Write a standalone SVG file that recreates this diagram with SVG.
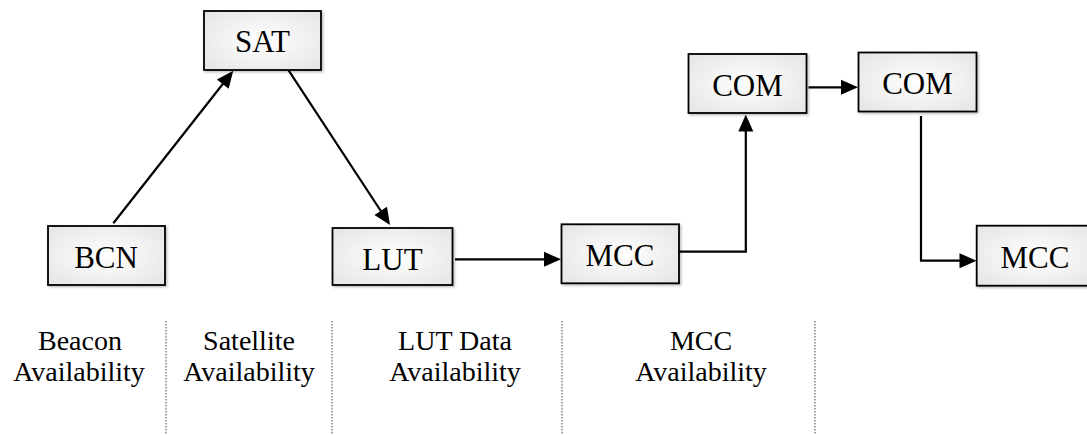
<svg xmlns="http://www.w3.org/2000/svg" width="1087" height="435" viewBox="0 0 1087 435">
<defs>
<radialGradient id="boxfill" cx="50%" cy="50%" r="70%">
<stop offset="0%" stop-color="#ffffff"/>
<stop offset="100%" stop-color="#e4e4e4"/>
</radialGradient>
<filter id="shadow" x="-10%" y="-10%" width="130%" height="130%">
<feDropShadow dx="1.5" dy="1.5" stdDeviation="1.2" flood-color="#000" flood-opacity="0.25"/>
</filter>
<marker id="arrow" markerUnits="userSpaceOnUse" markerWidth="18" markerHeight="16" refX="8" refY="7.5" orient="auto" overflow="visible">
<path d="M0,0 L17,7.5 L0,15 z" fill="#000"/>
</marker>
</defs>
<style>
.box{fill:url(#boxfill);stroke:#000;stroke-width:1.8;filter:url(#shadow)}
.nt{font-family:"Liberation Serif","Times New Roman",serif;font-size:31px;fill:#000;text-anchor:middle}
.lb{font-family:"Liberation Serif","Times New Roman",serif;font-size:28px;fill:#000;text-anchor:middle}
.conn{fill:none;stroke:#000;stroke-width:2.2;marker-end:url(#arrow)}
.div{stroke:#444;stroke-width:1;stroke-dasharray:1.5 1.5}
</style>
<rect width="1087" height="435" fill="#fff"/>
<g id="connectors">
<path class="conn" d="M113.3,223.3 L227.7,77.8"/>
<path class="conn" d="M287.3,68.3 L385.1,217.5"/>
<path class="conn" d="M455,259.3 L552,259.3"/>
<path class="conn" d="M679,251.7 H745.8 V123.5"/>
<path class="conn" d="M808.5,87.3 L849,87.3"/>
<path class="conn" d="M921,116 V260.7 H967.5"/>
</g>
<g id="node-sat"><rect class="box" x="204" y="11" width="117" height="59"/><text class="nt" x="262.5" y="52">SAT</text></g>
<g id="node-bcn"><rect class="box" x="48" y="226" width="117" height="59"/><text class="nt" x="106" y="267.5">BCN</text></g>
<g id="node-lut"><rect class="box" x="332.5" y="228" width="120" height="57"/><text class="nt" x="392.5" y="269.5">LUT</text></g>
<g id="node-mcc1"><rect class="box" x="561.5" y="224.3" width="117.5" height="59"/><text class="nt" x="620" y="266">MCC</text></g>
<g id="node-com1"><rect class="box" x="688.5" y="54" width="118" height="59"/><text class="nt" x="747.5" y="95.5">COM</text></g>
<g id="node-com2"><rect class="box" x="858.5" y="52.5" width="118" height="59"/><text class="nt" x="917.5" y="94">COM</text></g>
<g id="node-mcc2"><rect class="box" x="976.7" y="225.7" width="118" height="60"/><text class="nt" x="1035" y="268">MCC</text></g>
<g id="dividers">
<line class="div" x1="166" y1="321" x2="166" y2="435"/>
<line class="div" x1="332" y1="321" x2="332" y2="435"/>
<line class="div" x1="562" y1="321" x2="562" y2="435"/>
<line class="div" x1="815" y1="321" x2="815" y2="435"/>
</g>
<g id="labels">
<text class="lb" x="80" y="350">Beacon</text>
<text class="lb" x="79" y="381">Availability</text>
<text class="lb" x="249" y="350">Satellite</text>
<text class="lb" x="249" y="381">Availability</text>
<text class="lb" x="455" y="350">LUT Data</text>
<text class="lb" x="455" y="381">Availability</text>
<text class="lb" x="701" y="350">MCC</text>
<text class="lb" x="701" y="381">Availability</text>
</g>
</svg>
